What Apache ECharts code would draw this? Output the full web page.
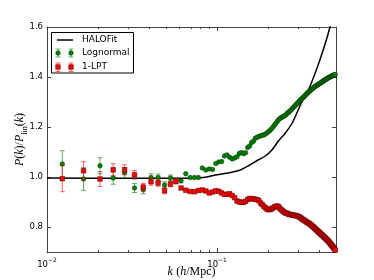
<!DOCTYPE html>
<html>
<head>
<meta charset="utf-8">
<script src="https://cdn.jsdelivr.net/npm/echarts@6/dist/echarts.min.js"></script>
<style>
html,body{margin:0;padding:0;background:#fff;}
#chart{width:374px;height:280px;}
</style>
</head>
<body>
<div id="chart"></div>
<script>
// k bins (h/Mpc)
const kBins = [0.0123,0.0164,0.0205,0.0245,0.0286,0.0327,0.0368,0.0409,0.0450,0.0491,
0.0532,0.0573,0.0614,0.0654,0.0695,0.0736,0.0777,0.0818,0.0859,0.0900,
0.0941,0.0982,0.1023,0.1063,0.1104,0.1145,0.1186,0.1227,0.1268,0.1309,
0.1350,0.1391,0.1432,0.1472,0.1513,0.1554,0.1595,0.1636,0.1677,0.1718,
0.1759,0.1800,0.1841,0.1881,0.1922,0.1963,0.2004,0.2045,0.2086,0.2127,
0.2168,0.2209,0.2250,0.2290,0.2331,0.2372,0.2413,0.2454,0.2495,0.2536,
0.2577,0.2618,0.2659,0.2699,0.2740,0.2781,0.2822,0.2863,0.2904,0.2945,
0.2986,0.3027,0.3068,0.3108,0.3149,0.3190,0.3231,0.3272,0.3313,0.3354,
0.3395,0.3436,0.3477,0.3517,0.3558,0.3599,0.3640,0.3681,0.3722,0.3763,
0.3804,0.3845,0.3886,0.3926,0.3967,0.4008,0.4049,0.4090,0.4131,0.4172,
0.4213,0.4254,0.4295,0.4335,0.4376,0.4417,0.4458,0.4499,0.4540,0.4581,
0.4622,0.4663,0.4704,0.4744,0.4785,0.4826,0.4867,0.4908,0.4949];

// Lognormal P(k)/Plin(k)
const lognormal = [1.052,0.992,1.045,0.996,1.017,0.956,0.949,0.998,0.998,0.968,
0.996,0.985,0.984,1.013,0.998,0.998,0.998,1.036,1.028,1.032,
1.030,1.054,1.060,1.062,1.084,1.088,1.079,1.072,1.076,1.081,
1.094,1.098,1.093,1.097,1.118,1.124,1.138,1.143,1.155,1.159,
1.162,1.165,1.167,1.168,1.172,1.176,1.181,1.186,1.192,1.199,
1.207,1.214,1.221,1.228,1.233,1.237,1.240,1.242,1.245,1.249,
1.254,1.258,1.262,1.266,1.270,1.275,1.280,1.284,1.289,1.293,
1.297,1.302,1.306,1.310,1.313,1.317,1.320,1.324,1.328,1.332,
1.336,1.339,1.342,1.345,1.348,1.351,1.354,1.357,1.359,1.362,
1.364,1.366,1.368,1.370,1.372,1.374,1.376,1.378,1.380,1.382,
1.384,1.386,1.388,1.390,1.391,1.393,1.395,1.396,1.398,1.399,
1.401,1.402,1.403,1.404,1.406,1.407,1.408,1.409,1.410];
const lognormalErr = [0.053,0.045,0.032,0.025,0.021,0.018,0.016,0.015,0.014,0.013,0.012,0.011];

// 1-LPT P(k)/Plin(k)
const lpt = [0.993,1.025,0.992,1.029,1.029,1.009,0.960,0.981,0.976,0.945,
0.972,0.983,0.956,0.947,0.942,0.941,0.946,0.948,0.944,0.936,
0.940,0.945,0.943,0.936,0.930,0.931,0.933,0.926,0.917,0.904,
0.900,0.899,0.899,0.903,0.910,0.914,0.913,0.912,0.911,0.909,
0.906,0.896,0.890,0.883,0.877,0.872,0.869,0.870,0.872,0.876,
0.880,0.882,0.884,0.882,0.876,0.870,0.866,0.862,0.858,0.856,
0.855,0.852,0.850,0.850,0.849,0.848,0.847,0.846,0.845,0.845,
0.843,0.841,0.839,0.836,0.833,0.830,0.828,0.826,0.823,0.820,
0.818,0.816,0.814,0.811,0.809,0.806,0.803,0.800,0.797,0.794,
0.791,0.788,0.785,0.782,0.779,0.777,0.774,0.771,0.768,0.766,
0.763,0.760,0.758,0.755,0.752,0.749,0.747,0.744,0.741,0.738,
0.734,0.731,0.728,0.725,0.722,0.719,0.716,0.712,0.708];
const lptErr = [0.052,0.036,0.030,0.024,0.020,0.017,0.015,0.014,0.013,0.012,0.011,0.011];

// HALOFit curve
const halofitK = [0.01,0.03,0.06,0.076,0.085,0.095,0.107,0.12,0.137,0.153,0.172,0.192,0.21,0.23,0.252,0.276,0.295,0.316,0.345,0.387,0.424,0.461,0.5];
const halofitV = [0.996,0.995,0.995,0.996,0.999,1.006,1.012,1.018,1.028,1.045,1.066,1.084,1.108,1.145,1.176,1.215,1.258,1.302,1.35,1.436,1.516,1.60,1.71];

// ticks
const yTicks = [0.8,1.0,1.2,1.4,1.6];
const xMajorTicks = [0.01,0.1];
const xMinorTicks = [0.02,0.03,0.04,0.05,0.06,0.07,0.08,0.09,0.2,0.3,0.4,0.5];
const xTickLabels = {'0.01':'{b|10}{s|−2}','0.1':'{b|10}{s|−1}'};

const FONT = 'DejaVu Sans';
const SERIF = 'Liberation Serif';
const frameColor = '#444';

function pairs(xs, ys){ return xs.map((x,i)=>[x, ys[i]]); }
function errData(xs, ys, es){ return es.map((e,i)=>[xs[i], ys[i]-e, ys[i]+e]); }
function errRender(color){
  return function(params, api){
    const k = api.value(0);
    const p1 = api.coord([k, api.value(1)]);
    const p2 = api.coord([k, api.value(2)]);
    const st = {stroke: color, lineWidth: 1};
    return {type:'group', children:[
      {type:'line', shape:{x1:p1[0],y1:p1[1],x2:p2[0],y2:p2[1]}, style:st},
      {type:'line', shape:{x1:p1[0]-2.5,y1:p1[1],x2:p1[0]+2.5,y2:p1[1]}, style:st},
      {type:'line', shape:{x1:p2[0]-2.5,y1:p2[1],x2:p2[0]+2.5,y2:p2[1]}, style:st}
    ]};
  };
}

const greenBar = 'rgba(0,128,0,0.6)';
const redBar = 'rgba(255,0,0,0.6)';

const logX = (extra) => Object.assign({
  type:'log', logBase:10, min:0.01, max:0.5, gridIndex:0,
  splitLine:{show:false}, minorTick:{show:false}, minorSplitLine:{show:false}
}, extra);

const chart = echarts.init(document.getElementById('chart'), null, {renderer:'canvas'});
chart.setOption({
  animation:false,
  backgroundColor:'#fff',
  grid:{left:47, right:38, top:27, bottom:28, containLabel:false, outerBoundsMode:'none'},
  xAxis:[
    logX({position:'bottom',
      axisLine:{show:true, onZero:false, lineStyle:{color:frameColor, width:1}},
      axisTick:{show:true, inside:true, length:4, customValues:xMajorTicks, lineStyle:{color:frameColor}},
      axisLabel:{show:true, customValues:xMajorTicks, margin:5,
        formatter:(v)=> xTickLabels[String(+v.toPrecision(3))] || '',
        rich:{b:{fontSize:8.5, fontFamily:FONT, color:'#000', lineHeight:12, verticalAlign:'bottom'},
              s:{fontSize:6, fontFamily:FONT, color:'#000', verticalAlign:'top', lineHeight:12}}},
      name:'{i|k} {r|(}{i|h}{r|/Mpc)}', nameLocation:'middle', nameGap:14, nameMoveOverlap:false,
      nameTextStyle:{rich:{i:{fontFamily:SERIF, fontStyle:'italic', fontSize:12, color:'#000'},
                           r:{fontFamily:SERIF, fontSize:12, color:'#000'}}}
    }),
    logX({position:'bottom',
      axisLine:{show:false},
      axisTick:{show:true, inside:true, length:2, customValues:xMinorTicks, lineStyle:{color:frameColor}},
      axisLabel:{show:false}}),
    logX({position:'top',
      axisLine:{show:true, onZero:false, lineStyle:{color:frameColor, width:1}},
      axisTick:{show:true, inside:true, length:4, customValues:xMajorTicks, lineStyle:{color:frameColor}},
      axisLabel:{show:false}}),
    logX({position:'top',
      axisLine:{show:false},
      axisTick:{show:true, inside:true, length:2, customValues:xMinorTicks, lineStyle:{color:frameColor}},
      axisLabel:{show:false}})
  ],
  yAxis:[
    {type:'value', min:0.7, max:1.6, position:'left', splitLine:{show:false},
      axisLine:{show:true, onZero:false, lineStyle:{color:frameColor, width:1}},
      axisTick:{show:true, inside:true, length:4, customValues:yTicks, lineStyle:{color:frameColor}},
      axisLabel:{show:true, customValues:yTicks, margin:4, formatter:(v)=>v.toFixed(1),
        fontSize:8.5, fontFamily:FONT, color:'#000'},
      name:'{i|P}{r|(}{i|k}{r|)/}{i|P}{s|lin}{r|(}{i|k}{r|)}', nameLocation:'middle', nameRotate:90, nameGap:18,
      nameMoveOverlap:false,
      nameTextStyle:{rich:{
        i:{fontFamily:SERIF, fontStyle:'italic', fontSize:12, color:'#000', lineHeight:18, verticalAlign:'middle'},
        r:{fontFamily:SERIF, fontSize:12, color:'#000', lineHeight:18, verticalAlign:'middle'},
        s:{fontFamily:SERIF, fontSize:8, color:'#000', lineHeight:18, verticalAlign:'bottom'}}}
    },
    {type:'value', min:0.7, max:1.6, position:'right', splitLine:{show:false},
      axisLine:{show:true, onZero:false, lineStyle:{color:frameColor, width:1}},
      axisTick:{show:true, inside:true, length:4, customValues:yTicks, lineStyle:{color:frameColor}},
      axisLabel:{show:false}}
  ],
  series:[
    {name:'HALOFit', type:'line', xAxisIndex:0, yAxisIndex:0, data:pairs(halofitK, halofitV),
      showSymbol:false, symbol:'none', smooth:0.3, clip:true, z:2,
      lineStyle:{color:'#000', width:1.5}},
    {name:'LognormalErr', type:'custom', xAxisIndex:0, yAxisIndex:0, z:3,
      data:errData(kBins, lognormal, lognormalErr), renderItem:errRender(greenBar), encode:{x:0, y:[1,2]}},
    {name:'Lognormal', type:'scatter', xAxisIndex:0, yAxisIndex:0, z:4, symbol:'circle', symbolSize:4.6,
      data:pairs(kBins, lognormal),
      itemStyle:{color:'#008000', borderColor:'#003000', borderWidth:0.5, opacity:1}},
    {name:'LPTErr', type:'custom', xAxisIndex:0, yAxisIndex:0, z:5,
      data:errData(kBins, lpt, lptErr), renderItem:errRender(redBar), encode:{x:0, y:[1,2]}},
    {name:'1-LPT', type:'scatter', xAxisIndex:0, yAxisIndex:0, z:6, symbol:'rect', symbolSize:4.6,
      data:pairs(kBins, lpt),
      itemStyle:{color:'#ff0000', borderColor:'#400000', borderWidth:0.5, opacity:1}}
  ],
  graphic:[
    {type:'group', z:100, children:[
      {type:'rect', shape:{x:51.5, y:32.5, width:82, height:40.5}, style:{fill:'#fff', stroke:'#000', lineWidth:1}},
      {type:'line', shape:{x1:57, y1:40, x2:73, y2:40}, style:{stroke:'#000', lineWidth:1.5}},
      {type:'text', x:82, y:40, style:{text:'HALOFit', font:'9px "DejaVu Sans"', fill:'#000', verticalAlign:'middle'}},
      {type:'line', shape:{x1:58, y1:49, x2:58, y2:57}, style:{stroke:greenBar, lineWidth:1}},
      {type:'line', shape:{x1:55.5, y1:49, x2:60.5, y2:49}, style:{stroke:greenBar, lineWidth:1}},
      {type:'line', shape:{x1:55.5, y1:57, x2:60.5, y2:57}, style:{stroke:greenBar, lineWidth:1}},
      {type:'line', shape:{x1:71, y1:49, x2:71, y2:57}, style:{stroke:greenBar, lineWidth:1}},
      {type:'line', shape:{x1:68.5, y1:49, x2:73.5, y2:49}, style:{stroke:greenBar, lineWidth:1}},
      {type:'line', shape:{x1:68.5, y1:57, x2:73.5, y2:57}, style:{stroke:greenBar, lineWidth:1}},
      {type:'circle', shape:{cx:58, cy:53, r:2.3}, style:{fill:'#008000', stroke:'#003000', lineWidth:0.5}},
      {type:'circle', shape:{cx:71, cy:53, r:2.3}, style:{fill:'#008000', stroke:'#003000', lineWidth:0.5}},
      {type:'text', x:82, y:53, style:{text:'Lognormal', font:'9px "DejaVu Sans"', fill:'#000', verticalAlign:'middle'}},
      {type:'line', shape:{x1:58, y1:63, x2:58, y2:71.5}, style:{stroke:redBar, lineWidth:1}},
      {type:'line', shape:{x1:55.5, y1:63, x2:60.5, y2:63}, style:{stroke:redBar, lineWidth:1}},
      {type:'line', shape:{x1:55.5, y1:71.5, x2:60.5, y2:71.5}, style:{stroke:redBar, lineWidth:1}},
      {type:'line', shape:{x1:71, y1:63, x2:71, y2:71.5}, style:{stroke:redBar, lineWidth:1}},
      {type:'line', shape:{x1:68.5, y1:63, x2:73.5, y2:63}, style:{stroke:redBar, lineWidth:1}},
      {type:'line', shape:{x1:68.5, y1:71.5, x2:73.5, y2:71.5}, style:{stroke:redBar, lineWidth:1}},
      {type:'rect', shape:{x:55.7, y:64.7, width:4.6, height:4.6}, style:{fill:'#ff0000', stroke:'#400000', lineWidth:0.5}},
      {type:'rect', shape:{x:68.7, y:64.7, width:4.6, height:4.6}, style:{fill:'#ff0000', stroke:'#400000', lineWidth:0.5}},
      {type:'text', x:82, y:67, style:{text:'1-LPT', font:'9px "DejaVu Sans"', fill:'#000', verticalAlign:'middle'}}
    ]}
  ]
});
</script>
</body>
</html>
